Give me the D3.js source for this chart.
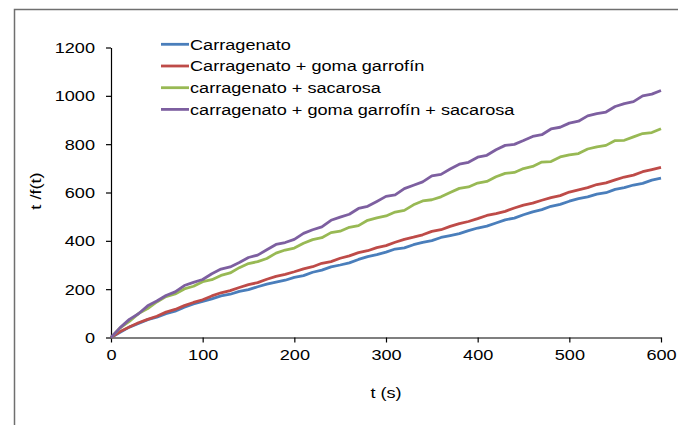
<!DOCTYPE html>
<html>
<head>
<meta charset="utf-8">
<script src="https://cdn.jsdelivr.net/npm/d3@7"></script>
<style>
  body { margin: 0; background: #fff; }
  svg text { font-family: "Liberation Sans", Arial, sans-serif; fill: #000; }
</style>
</head>
<body>
<div id="chart"></div>
<script>
// time axis, one reading every 10 s
var times = d3.range(0, 601, 10);

var seriesNames = [
    "Carragenato",
    "Carragenato + goma garrofín",
    "carragenato + sacarosa",
    "carragenato + goma garrofín + sacarosa"
];
var seriesColors = ["#4a7ebb", "#be4b48", "#98b954", "#7d5fa0"];

var carragenato = [0, 22, 43, 58, 74, 84, 99, 109, 125, 139, 149, 160, 172, 179, 191, 198, 210, 221, 229, 237,
    249, 256, 270, 279, 292, 300, 309, 323, 335, 343, 353, 366, 371, 384, 394, 401, 414, 422, 430, 442,
    453, 461, 474, 487, 494, 508, 520, 529, 543, 551, 564, 575, 582, 593, 599, 613, 620, 631, 638, 651, 659];

var carrGoma = [0, 25, 43, 61, 75, 88, 105, 116, 132, 145, 156, 172, 185, 194, 207, 219, 227, 241, 253, 261,
    272, 284, 293, 307, 314, 328, 338, 351, 359, 372, 380, 394, 406, 415, 425, 439, 446, 460, 471, 480,
    492, 505, 513, 522, 536, 548, 556, 568, 579, 587, 602, 611, 620, 633, 640, 652, 664, 672, 686, 695, 704];

var carrSacarosa = [0, 40, 67, 99, 120, 147, 169, 180, 201, 212, 231, 239, 257, 267, 289, 306, 314, 327, 349, 362,
    370, 390, 405, 413, 434, 440, 456, 463, 485, 495, 503, 519, 526, 549, 565, 570, 582, 600, 617, 623,
    639, 646, 665, 679, 683, 699, 708, 726, 728, 747, 756, 761, 780, 789, 795, 815, 816, 830, 844, 848, 864];

var carrGomaSacarosa = [0, 41, 75, 98, 131, 151, 174, 189, 215, 228, 240, 264, 283, 292, 310, 331, 341, 363, 385, 393,
    406, 431, 446, 458, 485, 498, 510, 534, 543, 563, 584, 590, 616, 630, 644, 669, 675, 697, 717, 725,
    746, 754, 777, 795, 799, 815, 832, 839, 863, 870, 887, 895, 917, 926, 933, 956, 968, 976, 1000, 1007, 1022];

var xTicks = [0, 100, 200, 300, 400, 500, 600];
var yTicks = [0, 200, 400, 600, 800, 1000, 1200];

var allSeries = [carragenato, carrGoma, carrSacarosa, carrGomaSacarosa];

var width = 678, height = 425;
var fontSize = 15.5, stretch = 1.17;   // text in the picture is a little wide

var svg = d3.select("#chart").append("svg")
    .attr("width", width)
    .attr("height", height);

// outer chart frame (only top and left edges fall inside the picture)
svg.append("path")
    .attr("d", "M14.5,425 L14.5,9.5 L678,9.5")
    .attr("fill", "none")
    .attr("stroke", "#6f6f6f")
    .attr("stroke-width", 1.5);

var x = d3.scaleLinear().domain([0, 600]).range([111, 661]);
var y = d3.scaleLinear().domain([0, 1200]).range([337.5, 47.5]);

// axes
var xAxis = svg.append("g")
    .attr("transform", "translate(0," + y(0) + ")")
    .call(d3.axisBottom(x).tickValues(xTicks).tickFormat(d3.format("d"))
        .tickSize(5).tickSizeOuter(0).tickPadding(7));
var yAxis = svg.append("g")
    .attr("transform", "translate(" + x(0) + ",0)")
    .call(d3.axisLeft(y).tickValues(yTicks).tickFormat(d3.format("d"))
        .tickSize(5).tickSizeOuter(0).tickPadding(11));

[xAxis, yAxis].forEach(function(ax) {
    ax.select(".domain").attr("stroke", "#000").attr("stroke-width", 1.2);
    ax.selectAll(".tick line").attr("stroke", "#000").attr("stroke-width", 1.2);
    ax.selectAll(".tick text")
        .attr("font-family", "Liberation Sans, Arial, sans-serif")
        .attr("font-size", fontSize)
        .attr("fill", "#000");
});
yAxis.selectAll(".tick text")
    .attr("x", -16 / stretch)
    .attr("transform", "scale(" + stretch + ",1)");
xAxis.selectAll(".tick text")
    .attr("transform", "scale(" + stretch + ",1)");

// lines
var line = d3.line()
    .x(function(d, i) { return x(times[i]); })
    .y(function(d) { return y(d); });

svg.append("g").selectAll("path")
    .data(allSeries)
    .enter().append("path")
    .attr("d", line)
    .attr("fill", "none")
    .attr("stroke", function(d, i) { return seriesColors[i]; })
    .attr("stroke-width", 2.8)
    .attr("stroke-linejoin", "round");

// axis titles
svg.append("text")
    .attr("transform", "translate(386,398) scale(" + stretch + ",1)")
    .attr("text-anchor", "middle")
    .attr("font-size", fontSize)
    .text("t (s)");

svg.append("text")
    .attr("transform", "translate(41,191) rotate(-90) scale(" + stretch + ",1)")
    .attr("text-anchor", "middle")
    .attr("font-size", fontSize)
    .text("t /f(t)");

// legend
var legend = svg.append("g").selectAll("g")
    .data(seriesNames)
    .enter().append("g")
    .attr("transform", function(d, i) { return "translate(161," + (44.3 + i * 21.7) + ")"; });

legend.append("line")
    .attr("x1", 0).attr("x2", 28)
    .attr("stroke", function(d, i) { return seriesColors[i]; })
    .attr("stroke-width", 2.8);

legend.append("text")
    .attr("transform", "translate(29,0) scale(" + stretch + ",1)")
    .attr("dy", "0.35em")
    .attr("font-size", fontSize)
    .text(function(d) { return d; });
</script>
</body>
</html>
